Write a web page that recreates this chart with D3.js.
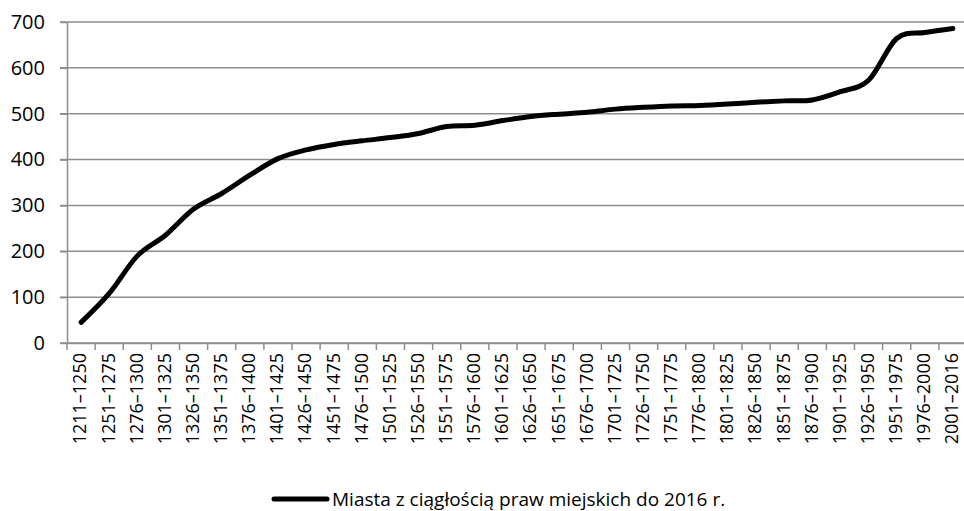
<!DOCTYPE html>
<html>
<head>
<meta charset="utf-8">
<script src="https://cdn.jsdelivr.net/npm/d3@7/dist/d3.min.js"></script>
<style>
  html, body { margin: 0; padding: 0; background: #fff; }
  svg { display: block; }
  text { font-family: "Open Sans", "DejaVu Sans", sans-serif; fill: #000; }
</style>
</head>
<body>
<svg id="chart" width="964" height="511"></svg>
<script>
const categories = [
  "1211–1250","1251–1275","1276–1300","1301–1325","1326–1350","1351–1375",
  "1376–1400","1401–1425","1426–1450","1451–1475","1476–1500","1501–1525",
  "1526–1550","1551–1575","1576–1600","1601–1625","1626–1650","1651–1675",
  "1676–1700","1701–1725","1726–1750","1751–1775","1776–1800","1801–1825",
  "1826–1850","1851–1875","1876–1900","1901–1925","1926–1950","1951–1975",
  "1976–2000","2001–2016"
];
const values = [
  45, 108, 190, 235, 292, 326, 366, 402, 421, 433, 441, 448,
  457, 472, 475, 485, 494, 499, 503, 510, 514, 517, 518, 521,
  525, 528, 530, 548, 573, 664, 677, 686
];
const yTicks = [0, 100, 200, 300, 400, 500, 600, 700];
const seriesName = "Miasta z ciągłością praw miejskich do 2016 r.";

const svg = d3.select("#chart");
const mLeft = 67, mRight = 967, mTop = 22, mBottom = 343;

const x = d3.scaleBand().domain(categories).range([mLeft, mRight]).padding(0);
const y = d3.scaleLinear().domain([0, 700]).range([mBottom, mTop]);

// gridlines
svg.append("g")
  .selectAll("line")
  .data(yTicks)
  .join("line")
  .attr("x1", mLeft - 7).attr("x2", mRight)
  .attr("y1", d => y(d)).attr("y2", d => y(d))
  .attr("stroke", "#8e8e8e").attr("stroke-width", 1.5);

// y axis
const yAxis = svg.append("g")
  .attr("transform", `translate(${mLeft},0)`)
  .call(d3.axisLeft(y).tickValues(yTicks).tickSize(7).tickSizeOuter(0));
yAxis.select(".domain").attr("stroke", "#8e8e8e").attr("stroke-width", 1.5);
yAxis.selectAll(".tick line").attr("stroke", "#8e8e8e").attr("stroke-width", 1.5);
yAxis.selectAll(".tick text")
  .attr("x", -22)
  .style("font-size", "20px")
  .style("font-family", "'Open Sans', sans-serif");

// x axis
const xAxis = svg.append("g")
  .attr("transform", `translate(0,${mBottom})`)
  .call(d3.axisBottom(x).tickSize(0).tickSizeOuter(0));
xAxis.select(".domain").attr("stroke", "#8e8e8e").attr("stroke-width", 1.5);
// ticks at category boundaries
const bounds = categories.map(c => x(c)).concat([mRight]);
svg.append("g")
  .selectAll("line")
  .data(bounds)
  .join("line")
  .attr("x1", d => d).attr("x2", d => d)
  .attr("y1", mBottom).attr("y2", mBottom + 7)
  .attr("stroke", "#8e8e8e").attr("stroke-width", 1.5);
xAxis.selectAll(".tick text")
  .attr("transform", "rotate(-90)")
  .attr("text-anchor", "end")
  .attr("x", -10)
  .attr("y", -1)
  .attr("dy", "0.35em")
  .style("font-size", "18px")
  .style("font-family", "'Open Sans', sans-serif");

// line
const line = d3.line()
  .x((d, i) => x(categories[i]) + x.bandwidth() / 2)
  .y(d => y(d))
  .curve(d3.curveCatmullRom.alpha(0));
svg.append("path")
  .datum(values)
  .attr("d", line)
  .attr("fill", "none")
  .attr("stroke", "#000")
  .attr("stroke-width", 5)
  .attr("stroke-linecap", "round")
  .attr("stroke-linejoin", "round");

// legend
const lg = svg.append("g");
lg.append("line")
  .attr("x1", 274).attr("x2", 327)
  .attr("y1", 499).attr("y2", 499)
  .attr("stroke", "#000").attr("stroke-width", 5)
  .attr("stroke-linecap", "round");
lg.append("text")
  .attr("x", 332).attr("y", 499).attr("dy", "0.35em")
  .style("font-size", "19px")
  .text(seriesName);
</script>
</body>
</html>
